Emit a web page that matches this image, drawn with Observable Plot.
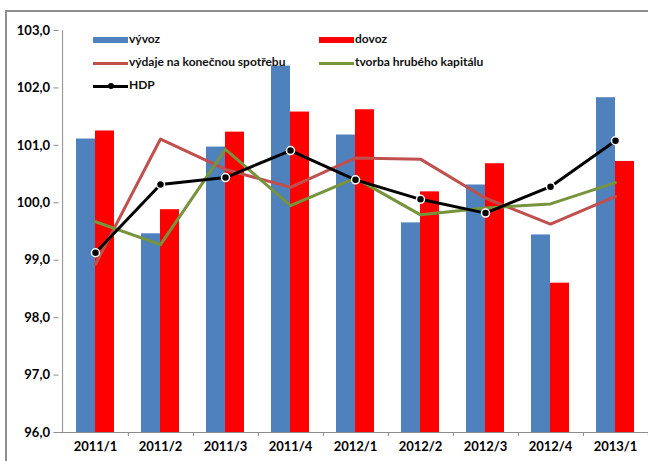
<!DOCTYPE html>
<html>
<head>
<meta charset="utf-8">
<script src="https://cdn.jsdelivr.net/npm/d3@7"></script>
<script src="https://cdn.jsdelivr.net/npm/@observablehq/plot@0.6"></script>
<style>
  html, body { margin: 0; padding: 0; background: #fff; }
  #wrap { position: relative; width: 648px; height: 461px; overflow: hidden; font-family: Lato, sans-serif; }
  #border { position: absolute; left: 5px; top: 10px; right: -10px; bottom: -10px; border-top: 2px solid #8e8e8e; border-left: 2px solid #8e8e8e; }
  #chart { position: absolute; left: 0; top: 0; }
  .leg { position: absolute; font-size: 12px; font-weight: bold; color: #111; line-height: 14px; white-space: nowrap; }
  .sw { position: absolute; }
</style>
</head>
<body>
<div id="wrap">
  <div id="border"></div>
  <div id="chart"></div>
</div>
<script>
const cats = ["2011/1", "2011/2", "2011/3", "2011/4", "2012/1", "2012/2", "2012/3", "2012/4", "2013/1"];
const vyvoz = [101.11, 99.46, 100.97, 102.38, 101.18, 99.65, 100.31, 99.44, 101.83];
const dovoz = [101.25, 99.88, 101.23, 101.58, 101.62, 100.19, 100.68, 98.60, 100.72];
const vydaje = [98.93, 101.11, 100.58, 100.27, 100.78, 100.76, 100.08, 99.63, 100.11];
const tvorba = [99.67, 99.27, 100.93, 99.95, 100.43, 99.79, 99.91, 99.98, 100.35];
const hdp = [99.13, 100.32, 100.44, 100.91, 100.40, 100.06, 99.82, 100.28, 101.08];
const yTicks = [96, 97, 98, 99, 100, 101, 102, 103];
const seriesNames = ["vývoz", "dovoz", "výdaje na konečnou spotřebu", "tvorba hrubého kapitálu", "HDP"];
const colors = ["#4F81BD", "#FF0000", "#C0504D", "#77933C", "#000000"];

const W = 648, H = 461;
const left = 58.5, right = 650.7;
const step = (right - left) / cats.length;
const bw = step * 0.5775;

const rows = cats.map((c, i) => ({cat: c, vyvoz: vyvoz[i], dovoz: dovoz[i], vydaje: vydaje[i], tvorba: tvorba[i], hdp: hdp[i]}));
const fmt = d => d.toFixed(1).replace(".", ",");

const plot = Plot.plot({
  width: W,
  height: H,
  marginLeft: left,
  marginRight: 0,
  marginTop: 30,
  marginBottom: 29,
  style: {fontFamily: "Lato, sans-serif", fontWeight: "bold", fontSize: "13px", color: "#000", background: "transparent"},
  x: {domain: cats, range: [left, right], paddingInner: 0.4225, paddingOuter: 0.21125, label: null},
  y: {domain: [96, 103], label: null},
  marks: [
    Plot.barY(rows, {x: "cat", y1: 96, y2: "vyvoz", fill: colors[0], insetRight: bw / 2}),
    Plot.barY(rows, {x: "cat", y1: 96, y2: "dovoz", fill: colors[1], insetLeft: bw / 2}),
    Plot.ruleY([96], {stroke: "#8c8c8c", strokeWidth: 1}),
    Plot.ruleX([cats[0]], {dx: -step / 2, stroke: "#8c8c8c", strokeWidth: 1}),
    Plot.axisY({ticks: yTicks, tickFormat: fmt, tickSize: 5, tickPadding: 4, stroke: "#8c8c8c", fill: "#000", fontSize: 13, fontWeight: "bold"}),
    Plot.axisX({tickSize: 4, tickFormat: () => "", dx: step / 2, stroke: "#8c8c8c"}),
    Plot.axisX({tickSize: 0, tickPadding: 9, fontSize: 13, fill: "#000"}),
    Plot.line(rows, {x: "cat", y: "vydaje", stroke: colors[2], strokeWidth: 3}),
    Plot.line(rows, {x: "cat", y: "tvorba", stroke: colors[3], strokeWidth: 3}),
    Plot.line(rows, {x: "cat", y: "hdp", stroke: colors[4], strokeWidth: 3}),
    Plot.dot(rows, {x: "cat", y: "hdp", r: 4, fill: "#000", stroke: "#fff", strokeWidth: 1.5})
  ]
});
document.getElementById("chart").appendChild(plot);

// Legend (HTML overlay inside the plot area)
const wrap = document.getElementById("wrap");
const legendItems = [
  {name: seriesNames[0], color: colors[0], type: "rect", x: 93, y: 40},
  {name: seriesNames[1], color: colors[1], type: "rect", x: 319, y: 40},
  {name: seriesNames[2], color: colors[2], type: "line", x: 93, y: 63},
  {name: seriesNames[3], color: colors[3], type: "line", x: 319, y: 63},
  {name: seriesNames[4], color: colors[4], type: "dotline", x: 93, y: 86}
];
for (const it of legendItems) {
  const sw = document.createElement("div");
  sw.className = "sw";
  if (it.type === "rect") {
    Object.assign(sw.style, {left: it.x + "px", top: (it.y - 3) + "px", width: "35px", height: "6px", background: it.color});
  } else {
    Object.assign(sw.style, {left: it.x + "px", top: (it.y - 1.5) + "px", width: "35px", height: "3px", background: it.color});
  }
  wrap.appendChild(sw);
  if (it.type === "dotline") {
    const dot = document.createElement("div");
    dot.className = "sw";
    Object.assign(dot.style, {left: (it.x + 17.5 - 3) + "px", top: (it.y - 3) + "px", width: "6px", height: "6px", borderRadius: "50%", background: it.color});
    wrap.appendChild(dot);
  }
  const t = document.createElement("div");
  t.className = "leg";
  t.textContent = it.name;
  Object.assign(t.style, {left: (it.x + 36) + "px", top: (it.y - 8) + "px"});
  wrap.appendChild(t);
}
</script>
</body>
</html>
